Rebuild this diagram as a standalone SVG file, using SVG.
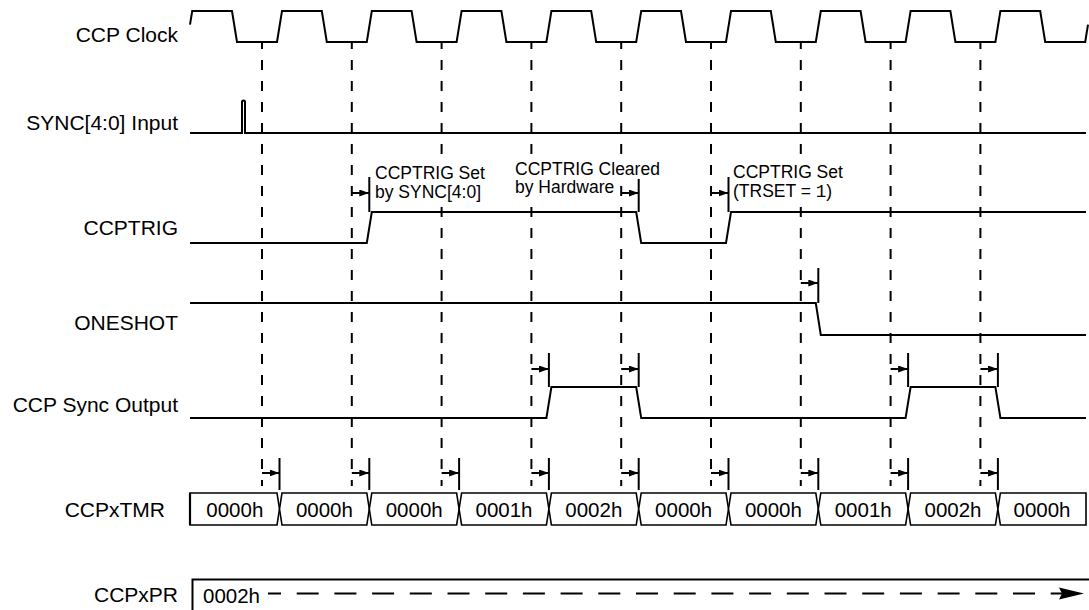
<svg xmlns="http://www.w3.org/2000/svg" width="1089" height="610" viewBox="0 0 1089 610">
<defs>
<style>
.sig{fill:none;stroke:#000;stroke-width:2;stroke-linejoin:miter}
.grid{stroke:#000;stroke-width:2;stroke-dasharray:10 11;stroke-dashoffset:3}
.bar{stroke:#000;stroke-width:2}
.arr{stroke:#000;stroke-width:2;marker-end:url(#ah)}
.box{fill:#fff;stroke:#000;stroke-width:1.6;stroke-linejoin:miter}
.mask{fill:#fff;stroke:none}
text{font-family:"Liberation Sans",Arial,Helvetica,sans-serif;fill:#000}
.lbl{font-size:21px;text-anchor:end}
.ann{font-size:17.5px}
.val{font-size:20.5px;text-anchor:middle}
</style>
<marker id="ah" markerUnits="userSpaceOnUse" markerWidth="10" markerHeight="7" viewBox="0 0 10 7" refX="10" refY="3.5" orient="auto">
<path d="M0,0 L10,3.5 L0,7 Z" fill="#000"/>
</marker>
</defs>
<rect width="1089" height="610" fill="#fff"/>

<g id="connectors">
<line class="grid" x1="262" y1="42" x2="262" y2="486"/>
<line class="grid" x1="351.8" y1="42" x2="351.8" y2="486"/>
<line class="grid" x1="441.6" y1="42" x2="441.6" y2="486"/>
<line class="grid" x1="531.4" y1="42" x2="531.4" y2="486"/>
<line class="grid" x1="621.2" y1="42" x2="621.2" y2="486"/>
<line class="grid" x1="711" y1="42" x2="711" y2="486"/>
<line class="grid" x1="800.8" y1="42" x2="800.8" y2="486"/>
<line class="grid" x1="890.6" y1="42" x2="890.6" y2="486"/>
<line class="grid" x1="980.4" y1="42" x2="980.4" y2="486"/>
<!-- CCPTRIG annotations -->
<line class="bar" x1="369.3" y1="177" x2="369.3" y2="212"/>
<line class="arr" x1="351.8" y1="193" x2="369.3" y2="193"/>
<line class="bar" x1="638.7" y1="177" x2="638.7" y2="212"/>
<line class="arr" x1="621.2" y1="193" x2="638.7" y2="193"/>
<line class="bar" x1="728.5" y1="177" x2="728.5" y2="212"/>
<line class="arr" x1="711" y1="193" x2="728.5" y2="193"/>
<!-- ONESHOT annotation -->
<line class="bar" x1="818.3" y1="268" x2="818.3" y2="303"/>
<line class="arr" x1="800.8" y1="283" x2="818.3" y2="283"/>
<!-- Sync output annotations -->
<line class="bar" x1="548.9" y1="353" x2="548.9" y2="387"/>
<line class="arr" x1="531.4" y1="369" x2="548.9" y2="369"/>
<line class="bar" x1="638.7" y1="353" x2="638.7" y2="387"/>
<line class="arr" x1="621.2" y1="369" x2="638.7" y2="369"/>
<line class="bar" x1="908.1" y1="353" x2="908.1" y2="387"/>
<line class="arr" x1="890.6" y1="369" x2="908.1" y2="369"/>
<line class="bar" x1="997.9" y1="353" x2="997.9" y2="387"/>
<line class="arr" x1="980.4" y1="369" x2="997.9" y2="369"/>
<!-- TMR annotations -->
<line class="bar" x1="279.5" y1="458" x2="279.5" y2="490"/>
<line class="arr" x1="262" y1="473" x2="279.5" y2="473"/>
<line class="bar" x1="369.3" y1="458" x2="369.3" y2="490"/>
<line class="arr" x1="351.8" y1="473" x2="369.3" y2="473"/>
<line class="bar" x1="459.1" y1="458" x2="459.1" y2="490"/>
<line class="arr" x1="441.6" y1="473" x2="459.1" y2="473"/>
<line class="bar" x1="548.9" y1="458" x2="548.9" y2="490"/>
<line class="arr" x1="531.4" y1="473" x2="548.9" y2="473"/>
<line class="bar" x1="638.7" y1="458" x2="638.7" y2="490"/>
<line class="arr" x1="621.2" y1="473" x2="638.7" y2="473"/>
<line class="bar" x1="728.5" y1="458" x2="728.5" y2="490"/>
<line class="arr" x1="711" y1="473" x2="728.5" y2="473"/>
<line class="bar" x1="818.3" y1="458" x2="818.3" y2="490"/>
<line class="arr" x1="800.8" y1="473" x2="818.3" y2="473"/>
<line class="bar" x1="908.1" y1="458" x2="908.1" y2="490"/>
<line class="arr" x1="890.6" y1="473" x2="908.1" y2="473"/>
<line class="bar" x1="997.9" y1="458" x2="997.9" y2="490"/>
<line class="arr" x1="980.4" y1="473" x2="997.9" y2="473"/>
</g>

<g id="ccp-clock">
<text class="lbl" x="178" y="42">CCP Clock</text>
<path class="sig" d="M190,24.6 L192.2,11 H232 L237,42 H277 L282,11 H321.8 L326.8,42 H366.8 L371.8,11 H411.6 L416.6,42 H456.6 L461.6,11 H501.4 L506.4,42 H546.4 L551.4,11 H591.2 L596.2,42 H636.2 L641.2,11 H681 L686,42 H726 L731,11 H770.8 L775.8,42 H815.8 L820.8,11 H860.6 L865.6,42 H905.6 L910.6,11 H950.4 L955.4,42 H995.4 L1000.4,11 H1040.2 L1045.2,42 H1085.2 L1088,24.6"/>
</g>

<g id="sync-input">
<text class="lbl" x="178" y="129.5">SYNC[4:0] Input</text>
<path class="sig" d="M190,133 H242 V102 Q242,100.5 243.5,100.5 Q245,100.5 245,102 V133 H1086"/>
</g>

<g id="ccptrig">
<text class="lbl" x="178" y="235">CCPTRIG</text>
<path class="sig" d="M190,243 H366.8 L371.8,212 H636.2 L641.2,243 H726 L731,212 H1086"/>
<rect class="mask" x="373" y="163" width="114" height="40"/>
<rect class="mask" x="513" y="159" width="149" height="20"/>
<rect class="mask" x="513" y="179" width="103" height="19"/>
<rect class="mask" x="731" y="162" width="114" height="40"/>
<text class="ann" x="375" y="179">CCPTRIG Set</text>
<text class="ann" x="375" y="198">by SYNC[4:0]</text>
<text class="ann" x="515" y="175">CCPTRIG Cleared</text>
<text class="ann" x="515" y="193">by Hardware</text>
<text class="ann" x="733" y="178">CCPTRIG Set</text>
<text class="ann" x="733" y="197">(TRSET = <tspan font-family="'Liberation Mono','DejaVu Sans Mono',monospace">1</tspan>)</text>
</g>

<g id="oneshot">
<text class="lbl" x="178" y="330">ONESHOT</text>
<path class="sig" d="M190,303 H815.8 L820.8,335 H1086"/>
</g>

<g id="ccp-sync-output">
<text class="lbl" x="178" y="411.5">CCP Sync Output</text>
<path class="sig" d="M190,418 H546.4 L551.4,387 H636.2 L641.2,418 H905.6 L910.6,387 H995.4 L1000.4,418 H1086"/>
</g>

<g id="ccpxtmr">
<text class="lbl" x="165" y="517">CCPxTMR</text>
<path class="box" d="M190,493 H277 L279.5,509 L277,525 H190 Z"/>
<path class="box" d="M282,493 H366.8 L369.3,509 L366.8,525 H282 L279.5,509 Z"/>
<path class="box" d="M371.8,493 H456.6 L459.1,509 L456.6,525 H371.8 L369.3,509 Z"/>
<path class="box" d="M461.6,493 H546.4 L548.9,509 L546.4,525 H461.6 L459.1,509 Z"/>
<path class="box" d="M551.4,493 H636.2 L638.7,509 L636.2,525 H551.4 L548.9,509 Z"/>
<path class="box" d="M641.2,493 H726 L728.5,509 L726,525 H641.2 L638.7,509 Z"/>
<path class="box" d="M731,493 H815.8 L818.3,509 L815.8,525 H731 L728.5,509 Z"/>
<path class="box" d="M820.8,493 H905.6 L908.1,509 L905.6,525 H820.8 L818.3,509 Z"/>
<path class="box" d="M910.6,493 H995.4 L997.9,509 L995.4,525 H910.6 L908.1,509 Z"/>
<path class="box" d="M1000.4,493 H1086 V525 H1000.4 L997.9,509 Z"/>
<line x1="190" y1="493" x2="190" y2="525" stroke="#000" stroke-width="2.2"/>
<text class="val" x="234.8" y="517">0000h</text>
<text class="val" x="324.4" y="517">0000h</text>
<text class="val" x="414.2" y="517">0000h</text>
<text class="val" x="504" y="517">0001h</text>
<text class="val" x="593.8" y="517">0002h</text>
<text class="val" x="683.6" y="517">0000h</text>
<text class="val" x="773.4" y="517">0000h</text>
<text class="val" x="863.2" y="517">0001h</text>
<text class="val" x="953" y="517">0002h</text>
<text class="val" x="1042" y="517">0000h</text>
</g>

<g id="ccpxpr">
<text class="lbl" x="178" y="602">CCPxPR</text>
<path class="sig" d="M192.5,611 V579.5 H1089"/>
<text class="val" x="203" y="603" style="text-anchor:start">0002h</text>
<line x1="268" y1="593.5" x2="1062" y2="593.5" stroke="#000" stroke-width="2" stroke-dasharray="22 15.7" stroke-dashoffset="9"/>
<path d="M1059,587.5 L1084,593.5 L1059,599.5 L1062,593.5 Z" fill="#000"/>
</g>
</svg>
